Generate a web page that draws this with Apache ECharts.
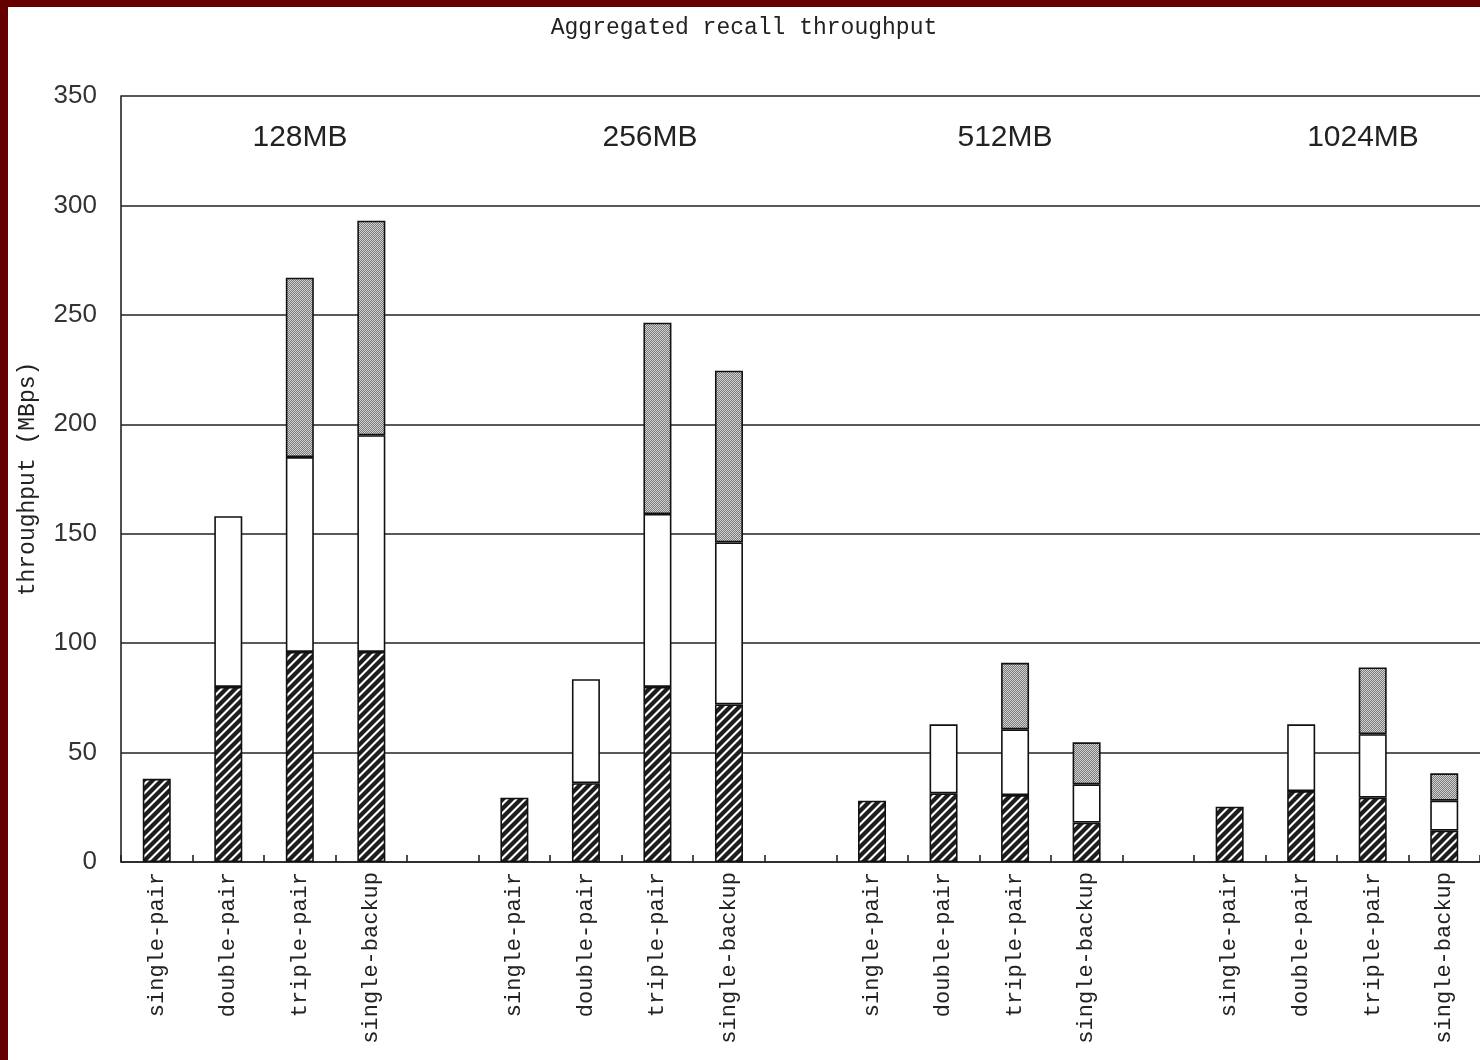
<!DOCTYPE html>
<html>
<head>
<meta charset="utf-8">
<title>Aggregated recall throughput</title>
<script src="https://cdn.jsdelivr.net/npm/echarts@6/dist/echarts.min.js"></script>
<style>
  html, body { margin: 0; padding: 0; background: #660000; width: 1480px; height: 1060px; overflow: hidden; }
  #chart { position: absolute; left: 8px; top: 7px; width: 1472px; height: 1053px; background: #ffffff; }
</style>
</head>
<body>
<div id="chart"></div>
<script>
// Bar categories: four configurations per file size, with a blank slot between groups
const categories = [
  'single-pair', 'double-pair', 'triple-pair', 'single-backup', '',
  'single-pair', 'double-pair', 'triple-pair', 'single-backup', '',
  'single-pair', 'double-pair', 'triple-pair', 'single-backup', '',
  'single-pair', 'double-pair', 'triple-pair', 'single-backup'
];
const groupNames = ['128MB', '256MB', '512MB', '1024MB'];

// Stacked segments (MBps): first pair (hatched), second pair (white), third pair / backup (dotted)
const firstSegment  = [38, 80, 96, 96, '-', 29.4, 36, 80, 72, '-', 28, 31.4, 30.6, 18, '-', 25.3, 32.4, 29.4, 14.3];
const secondSegment = ['-', 78, 89, 99, '-', '-', 47.5, 79, 74, '-', '-', 31.5, 30, 17.5, '-', '-', 30.5, 29, 13.7];
const thirdSegment  = ['-', '-', 82, 98, '-', '-', '-', 87.4, 78.5, '-', '-', '-', 30.4, 19.2, '-', '-', '-', 30.5, 12.5];

const yTicks = { min: 0, max: 350, interval: 50 };

// Fill patterns
function hatchPattern() {
  const p = 9;
  const c = document.createElement('canvas');
  c.width = p; c.height = p;
  const g = c.getContext('2d');
  g.fillStyle = '#ffffff';
  g.fillRect(0, 0, p, p);
  g.strokeStyle = '#1e1e1e';
  g.lineWidth = 4.2;
  g.lineCap = 'square';
  [[-p, p, p, -p], [0, p, p, 0], [0, 2 * p, 2 * p, 0]].forEach(function (l) {
    g.beginPath(); g.moveTo(l[0], l[1]); g.lineTo(l[2], l[3]); g.stroke();
  });
  return c;
}
function dotPattern() {
  const c = document.createElement('canvas');
  c.width = 2; c.height = 2;
  const g = c.getContext('2d');
  g.fillStyle = '#d2d2d2';
  g.fillRect(0, 0, 2, 2);
  g.fillStyle = '#7a7a7a';
  g.fillRect(0, 0, 1, 1);
  g.fillRect(1, 1, 1, 1);
  return c;
}

const chart = echarts.init(document.getElementById('chart'), null, { renderer: 'canvas' });

const barBase = {
  type: 'bar',
  stack: 'total',
  barWidth: 28,
  animation: false,
  itemStyle: { borderColor: '#111111', borderWidth: 1.6 }
};

const labelFont = '"Liberation Sans", Arial, sans-serif';
const monoFont = '"Liberation Mono", "Courier New", monospace';

const groupLabelX = [292, 642, 997, 1355];

chart.setOption({
  backgroundColor: '#ffffff',
  animation: false,
  title: {
    text: 'Aggregated recall throughput',
    left: 'center',
    top: 4,
    textStyle: { fontFamily: monoFont, fontWeight: 'normal', fontSize: 23, color: '#222222' }
  },
  grid: { left: 112, top: 89, width: 1368, height: 766, containLabel: false },
  xAxis: {
    type: 'category',
    data: categories,
    boundaryGap: true,
    axisLine: { show: true, lineStyle: { color: '#222222', width: 1.6 } },
    axisTick: { show: true, inside: true, length: 7, interval: 0, alignWithLabel: false,
                lineStyle: { color: '#222222', width: 1.6 } },
    axisLabel: { interval: 0, rotate: 90, margin: 10, fontFamily: monoFont, fontSize: 22, color: '#222222' },
    splitLine: { show: false }
  },
  yAxis: {
    type: 'value',
    min: yTicks.min,
    max: yTicks.max,
    interval: yTicks.interval,
    name: 'throughput (MBps)',
    nameLocation: 'middle',
    nameGap: 82,
    nameTextStyle: { fontFamily: monoFont, fontSize: 23, color: '#222222' },
    axisLine: { show: true, lineStyle: { color: '#222222', width: 1.6 } },
    axisTick: { show: false },
    axisLabel: { margin: 24, fontFamily: labelFont, fontSize: 26, color: '#333333' },
    splitLine: { show: true, lineStyle: { color: '#222222', width: 1.6 } }
  },
  graphic: groupNames.map(function (name, i) {
    return {
      type: 'text',
      x: groupLabelX[i],
      y: 131,
      style: { text: name, fontFamily: labelFont, fontSize: 30, fill: '#222222', align: 'center', verticalAlign: 'middle' }
    };
  }),
  series: [
    Object.assign({}, barBase, { name: 'first', data: firstSegment,
      itemStyle: Object.assign({}, barBase.itemStyle, { color: { image: hatchPattern(), repeat: 'repeat' } }) }),
    Object.assign({}, barBase, { name: 'second', data: secondSegment,
      itemStyle: Object.assign({}, barBase.itemStyle, { color: '#ffffff' }) }),
    Object.assign({}, barBase, { name: 'third', data: thirdSegment,
      itemStyle: Object.assign({}, barBase.itemStyle, { color: { image: dotPattern(), repeat: 'repeat' } }) })
  ]
});
</script>
</body>
</html>
